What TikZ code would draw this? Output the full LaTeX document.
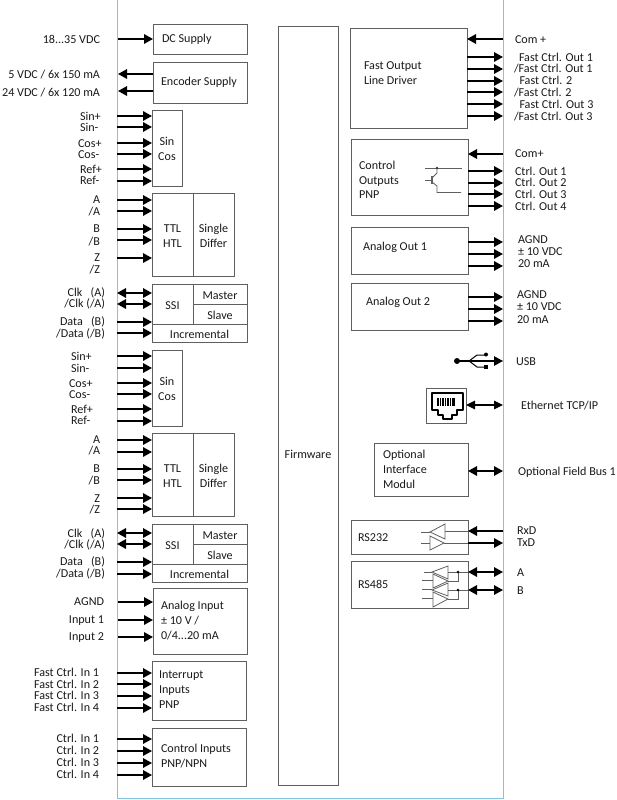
\documentclass[tikz,border=0pt]{standalone}
\usepackage{fontspec}
\setmainfont{Carlito}
\usetikzlibrary{arrows.meta}
\definecolor{framec}{RGB}{135,195,225}
\definecolor{boxc}{RGB}{95,95,95}
\definecolor{txt}{RGB}{25,25,25}
\tikzset{
  box/.style={draw=boxc,line width=0.9pt,inner sep=0pt,outer sep=0pt},
  frm/.style={draw=framec,line width=1pt,inner sep=0pt,outer sep=0pt},
  lab/.style={inner sep=0pt,outer sep=0pt,text=txt,font=\fontsize{12.1}{15}\selectfont,align=center,yshift=-1.3pt},
  sig/.style={line width=1.6pt,-{Triangle[length=9pt,width=9.5pt]}},
  sigb/.style={line width=1.6pt,{Triangle[length=9pt,width=9.5pt]}-{Triangle[length=9pt,width=9.5pt]}},
  sigt/.style={line width=1.2pt,{Triangle[length=9pt,width=8.5pt]}-{Triangle[length=9pt,width=8.5pt]}},
  sym/.style={draw=boxc,line width=0.8pt},
}
\newcount\tn
\newcommand{\bx}[7][]{%
  \pgfmathsetmacro{\bxW}{#5-#3}\pgfmathsetmacro{\bxH}{#6-#4}%
  \pgfmathsetmacro{\bxX}{(#5+#3)/2}\pgfmathsetmacro{\bxY}{(#6+#4)/2}%
  \node[box,#1,minimum width=\bxW pt,minimum height=\bxH pt] (#2) at (\bxX,\bxY) {};
  \if\relax\detokenize{#7}\relax\else\node[lab] (#2t) at (#2) {#7};\fi}
\newcommand{\tright}[3]{\global\advance\tn by 1 \node[lab,anchor=mid east] (t\the\tn) at (#1,#2) {#3};}
\newcommand{\tleft}[3]{\global\advance\tn by 1 \node[lab,anchor=mid west] (t\the\tn) at (#1,#2) {#3};}
\newcommand{\arr}[4]{\coordinate (p) at (0,#4); \draw[#1] (#2 |- p) -- (#3 |- p);}
\newcommand{\inarr}[2]{\foreach \yy in {#2} {\arr{sig}{frame.west}{#1.west}{\yy}}}
\newcommand{\outarr}[2]{\foreach \yy in {#2} {\arr{sig}{#1.east}{frame.east}{\yy}}}
\begin{document}
\begin{tikzpicture}[x=1pt,y=-1pt]
\useasboundingbox (0,0) rectangle (617,800);
\node[frm,minimum width=386pt,minimum height=798pt] (frame) at (310,399) {};
% left boxes
\bx{dc}{153}{24}{247}{54}{}
\tleft{162}{39}{DC Supply}
\bx{enc}{153}{62}{247}{103}{}
\tleft{161}{82}{Encoder Supply}
\bx{sca}{152}{110}{182}{186}{Sin\\Cos}
\bx{ttla}{152}{193.5}{193}{276}{TTL\\HTL}
\bx{sda}{193}{193.5}{234}{276}{Single\\Differ}
\bx{ssia}{152}{284}{193}{324}{SSI}
\bx{maa}{193}{284}{247}{304}{Master}
\bx{sla}{193}{304}{247}{324}{Slave}
\bx{inca}{152}{324}{247}{342}{Incremental}
\bx{scb}{152}{350}{182}{426}{Sin\\Cos}
\bx{ttlb}{152}{433}{193}{516}{TTL\\HTL}
\bx{sdb}{193}{433}{234}{516}{Single\\Differ}
\bx{ssib}{152}{524}{193}{564}{SSI}
\bx{mab}{193}{524}{247}{544}{Master}
\bx{slb}{193}{544}{247}{564}{Slave}
\bx{incb}{152}{564}{247}{582}{Incremental}
\bx{ain}{153}{588}{247}{654}{}
\tleft{161}{606}{Analog Input}
\tleft{161}{621}{± 10 V /}
\tleft{161}{636}{0/4...20 mA}
\bx{intr}{152}{661}{246}{720}{}
\tleft{159}{675}{Interrupt}
\tleft{159}{690}{Inputs}
\tleft{159}{705}{PNP}
\bx{cin}{152}{728}{246}{786}{}
\tleft{161}{749}{Control Inputs}
\tleft{161}{764}{PNP/NPN}
\bx{fw}{278}{26}{338}{785}{}
\node[lab,anchor=mid] (fwtext) at (308,455) {Firmware};
% right boxes
\bx{fo}{350}{28}{467}{128}{}
\tleft{364}{66}{Fast Output}
\tleft{364}{81}{Line Driver}
\bx{co}{351}{139}{468}{215}{}
\tleft{359}{166}{Control}
\tleft{359}{181}{Outputs}
\tleft{359}{195}{PNP}
\bx{aoa}{351}{227}{468}{274}{}
\tleft{363}{247}{Analog Out 1}
\bx{aob}{351}{283}{468}{330}{}
\tleft{366}{302}{Analog Out 2}
\bx[line width=0.7pt]{eth}{426}{388}{466}{423}{}
\bx{opt}{374}{443}{468}{496}{}
\tleft{383}{455}{Optional}
\tleft{383}{470}{Interface}
\tleft{383}{485}{Modul}
\bx{rsa}{351}{520}{468}{554}{}
\tleft{358}{538}{RS232}
\bx{rsb}{351}{561}{468}{608}{}
\tleft{358}{585}{RS485}
% left arrows
\coordinate (p) at (0,39); \draw[sig] ([xshift=1pt]frame.west |- p) -- (dc.west |- p);
\coordinate (p) at (0,74); \draw[sig] (enc.west |- p) -- ([xshift=1pt]frame.west |- p);
\coordinate (p) at (0,91); \draw[sig] (enc.west |- p) -- ([xshift=1pt]frame.west |- p);
\inarr{sca}{116,127,143,154,169,181}
\inarr{ttla}{200,211,229,240,258}
\foreach \yy in {293,304} {\arr{sigb}{frame.west}{ssia.west}{\yy}}
\inarr{ssia}{322}
\inarr{inca}{333}
\inarr{scb}{356,368,383,394,409,421}
\inarr{ttlb}{440,452,469,480,498,509}
\foreach \yy in {533,544} {\arr{sigb}{frame.west}{ssib.west}{\yy}}
\inarr{ssib}{562}
\inarr{incb}{574}
\foreach \yy in {602,620,637} {\coordinate (p) at (0,\yy); \draw[sig] ([xshift=1pt]frame.west |- p) -- (ain.west |- p);}
\inarr{intr}{673,684,696,708}
\inarr{cin}{739,751,763,775}
% left labels
\tright{100}{40}{18...35 VDC}
\tright{100}{75}{5 VDC / 6x 150 mA}
\tright{100}{93}{24 VDC / 6x 120 mA}
\tleft{80}{117}{Sin+}\tleft{80}{128}{Sin-}\tleft{78}{144}{Cos+}\tleft{78}{155}{Cos-}\tleft{80}{170}{Ref+}\tleft{80}{181}{Ref-}
\tright{100}{200}{A}\tright{100}{212}{/A}\tright{100}{229}{B}\tright{100}{242}{/B}\tright{100}{258}{Z}\tright{100}{270}{/Z}
\tright{105}{293}{Clk\ \ \ (A)}\tright{105}{304}{/Clk (/A)}\tright{105}{322}{Data\ \ \ (B)}\tright{105}{334}{/Data (/B)}
\tleft{71}{357}{Sin+}\tleft{71}{369}{Sin-}\tleft{69}{384}{Cos+}\tleft{69}{395}{Cos-}\tleft{71}{410}{Ref+}\tleft{71}{421}{Ref-}
\tright{100}{440}{A}\tright{100}{451}{/A}\tright{100}{469}{B}\tright{100}{481}{/B}\tright{100}{499}{Z}\tright{100}{510}{/Z}
\tright{105}{534}{Clk\ \ \ (A)}\tright{105}{545}{/Clk (/A)}\tright{105}{562}{Data\ \ \ (B)}\tright{105}{574}{/Data (/B)}
\tright{104}{602}{AGND}\tright{104}{620}{Input 1}\tright{104}{637}{Input 2}
\tright{99}{673}{Fast Ctrl. In 1}\tright{99}{685}{Fast Ctrl. In 2}\tright{99}{696}{Fast Ctrl. In 3}\tright{99}{708}{Fast Ctrl. In 4}
\tright{99}{739}{Ctrl. In 1}\tright{99}{751}{Ctrl. In 2}\tright{99}{763}{Ctrl. In 3}\tright{99}{775}{Ctrl. In 4}
% right arrows
\arr{sig}{frame.east}{fo.east}{39}
\outarr{fo}{57,69,81,92,104,116}
\arr{sig}{frame.east}{co.east}{154}
\outarr{co}{171,183,194,206}
\outarr{aoa}{242,254,266}
\outarr{aob}{297,309,321}
\arr{sigt}{eth.east}{frame.east}{405}
\arr{sigb}{opt.east}{frame.east}{471}
\arr{sig}{frame.east}{rsa.east}{531}
\outarr{rsa}{543}
\arr{sigb}{rsb.east}{frame.east}{572}
\arr{sigb}{rsb.east}{frame.east}{590}
% right labels
\tleft{515}{40}{Com +}
\tleft{519}{58}{Fast Ctrl. Out 1}\tleft{514}{69}{/Fast Ctrl. Out 1}
\tleft{519.5}{81}{Fast Ctrl. 2}\tleft{514}{93}{/Fast Ctrl. 2}
\tleft{519.5}{105}{Fast Ctrl. Out 3}\tleft{514}{117}{/Fast Ctrl. Out 3}
\tleft{515}{154}{Com+}
\tleft{515}{172}{Ctrl. Out 1}\tleft{515}{183}{Ctrl. Out 2}\tleft{515}{195}{Ctrl. Out 3}\tleft{515}{207}{Ctrl. Out 4}
\tleft{518}{240}{AGND}\tleft{518}{252}{± 10 VDC}\tleft{518}{264}{20 mA}
\tleft{517}{295}{AGND}\tleft{517}{307}{± 10 VDC}\tleft{517}{320}{20 mA}
\tleft{516}{362}{USB}
\tleft{521}{406}{Ethernet TCP/IP}
\tleft{518}{472}{Optional Field Bus 1}
\tleft{517}{531}{RxD}\tleft{517}{543}{TxD}
\tleft{517}{573}{A}\tleft{517}{591}{B}
% transistor
\draw[sym] (425,168) -- (462,168);
\draw[sym] (425,180) -- (432,180);
\draw[sym,line width=1.2pt] (432,176) -- (432,184);
\draw[sym] (432,178) -- (437,173) -- (437,168);
\draw[sym] (432,182) -- (437,186) -- (437,192.5) -- (461,192.5);
\fill[boxc!60!black] (437,168) circle (1.3);
% USB
\coordinate (usbdot) at (457,361);
\draw[line width=1.2pt,-{Triangle[length=9pt,width=9.5pt]}] (usbdot) -- (frame.east |- usbdot);
\fill (usbdot) circle (3);
\draw[line width=1pt] (469,361) -- (477,355) -- (485,355);
\draw[line width=1pt] (469,361) -- (477,367) -- (485,367);
\fill (486,354.5) circle (2);
\fill (484,365) rectangle (488,369);
% ethernet
\draw[line width=1.4pt,line join=round] (432,393) -- (463,393) -- (463,410) -- (457,410) -- (457,415) -- (452,415) -- (452,419) -- (443,419) -- (443,415) -- (438,415) -- (438,410) -- (432,410) -- cycle;
\fill (437,398) rectangle (455,406);
\foreach \xx in {439,441.5,444,446.5,449,451.5} {\draw[white,line width=0.6pt] (\xx,398) -- (\xx,406);}
% RS232 symbols
\draw[sym] (421,532) -- (430,532);
\draw[sym] (445,531.5) -- (468,531.5);
\draw[sym] (430,532) -- (445,524) -- (445,539) -- cycle;
\draw[sym] (421,543) -- (430,543);
\draw[sym] (444,543) -- (468,543);
\draw[sym] (444,543) -- (430,536) -- (430,550) -- cycle;
% RS485 symbols
\draw[sym] (424,572) -- (432,572);
\draw[sym] (422,580) -- (433,580);
\draw[sym] (422,589.5) -- (432,589.5);
\draw[sym] (422,598) -- (433,598);
\draw[sym] (448,572) -- (468,572);
\draw[sym] (448,590) -- (468,590);
\draw[sym] (448,581) -- (458,581) -- (458,572);
\draw[sym] (448,599) -- (458,599) -- (458,590);
\draw[sym] (432,572) -- (448,566) -- (448,579) -- cycle;
\draw[sym] (448,581) -- (433,574) -- (433,588) -- cycle;
\draw[sym] (432,590) -- (448,583) -- (448,596) -- cycle;
\draw[sym] (448,599) -- (433,592) -- (433,607) -- cycle;
\fill (458,572) circle (1.4);
\fill (458,590) circle (1.4);
\end{tikzpicture}
\end{document}
